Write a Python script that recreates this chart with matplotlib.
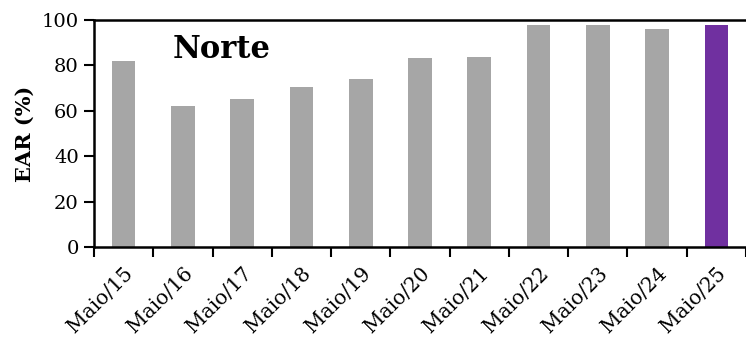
import matplotlib
matplotlib.use("Agg")
import matplotlib.pyplot as plt
import numpy as np

categories = ["Maio/15", "Maio/16", "Maio/17", "Maio/18", "Maio/19", "Maio/20",
              "Maio/21", "Maio/22", "Maio/23", "Maio/24", "Maio/25"]
ear_values = [82.0, 62.1, 65.0, 70.6, 74.0, 83.1, 83.6, 97.8, 97.8, 96.1, 97.8]
highlight = "Maio/25"
y_ticks = [0, 20, 40, 60, 80, 100]

GRAY = "#A6A6A6"
PURPLE = "#7030A0"

plt.rcParams["font.family"] = ["DejaVu Serif"]

fig = plt.figure(figsize=(7.46, 3.42), dpi=100)
ax = fig.add_axes([94 / 746, 1 - 247 / 342, 652 / 746, 227 / 342])

x = np.arange(len(categories))
colors = [PURPLE if c == highlight else GRAY for c in categories]
ax.bar(x, ear_values, width=0.4, color=colors, zorder=2)

ax.set_xlim(-0.5, len(categories) - 0.5)
ax.set_ylim(0, 100)
ax.set_yticks(y_ticks)
ax.set_yticklabels([str(v) for v in y_ticks], fontsize=14)
ax.set_xticks(x)
ax.set_xticklabels(categories, fontsize=14.5, rotation=45, ha="right", rotation_mode="anchor")
ax.set_xticks(np.arange(len(categories) + 1) - 0.5, minor=True)
ax.tick_params(axis="x", which="major", length=0, pad=12)
ax.tick_params(axis="x", which="minor", length=7, width=1.5, direction="out")
ax.tick_params(axis="y", length=7, width=1.5, direction="out", pad=4)

ax.set_ylabel("EAR (%)", fontsize=15, fontweight="bold", labelpad=5)

for side in ["left", "bottom", "top"]:
    ax.spines[side].set_linewidth(1.8)
    ax.spines[side].set_color("black")
ax.spines["right"].set_visible(False)

ax.text(0.12, 0.87, "Norte", transform=ax.transAxes, fontsize=22, fontweight="bold",
        va="center", ha="left")

fig.savefig("out.png", dpi=100)
